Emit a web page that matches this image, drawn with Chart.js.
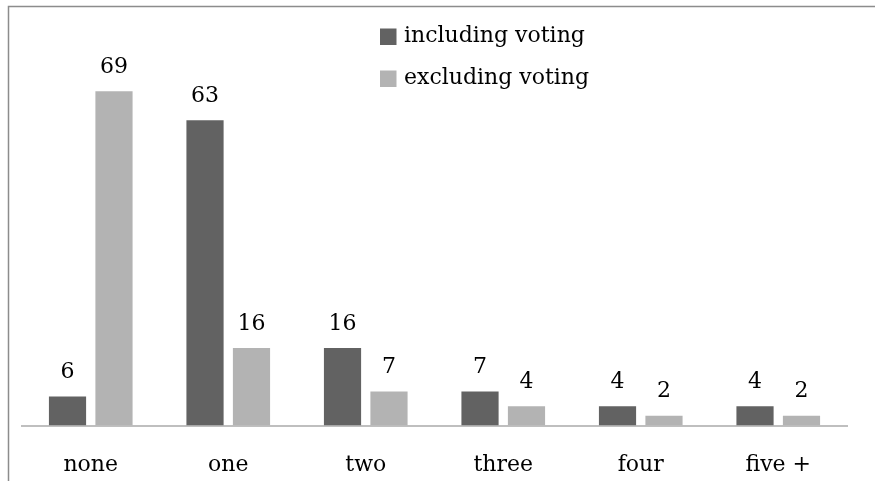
<!DOCTYPE html>
<html lang="en">
<head>
    <meta charset="UTF-8">
    <title>Voting counts</title>
    <script src="https://cdn.jsdelivr.net/npm/chart.js"></script>
    <style>
        html, body { margin: 0; padding: 0; background: #fff; }
        .chart-container { width: 876px; height: 481px; position: relative; }
    </style>
</head>
<body>
<div class="chart-container">
    <canvas id="votes-chart"></canvas>
</div>

<script>
const categories = ['none', 'one', 'two', 'three', 'four', 'five +'];
const includingVoting = [6, 63, 16, 7, 4, 4];
const excludingVoting = [69, 16, 7, 4, 2, 2];
const seriesNames = ['including voting', 'excluding voting'];

const FONT = '"DejaVu Serif", serif';
const FONT_SIZE = 22;

// frame lines along the top and left edge
const framePlugin = {
    id: 'frame',
    beforeDraw(chart) {
        const ctx = chart.ctx;
        ctx.save();
        ctx.fillStyle = '#fff';
        ctx.fillRect(0, 0, chart.width, chart.height);
        ctx.strokeStyle = '#8c8c8c';
        ctx.lineWidth = 1.5;
        ctx.beginPath();
        ctx.moveTo(8.5, chart.height);
        ctx.lineTo(8.5, 6.5);
        ctx.lineTo(chart.width - 1, 6.5);
        ctx.stroke();
        ctx.restore();
    }
};

// value printed above each bar
const valueLabels = {
    id: 'valueLabels',
    afterDatasetsDraw(chart) {
        const ctx = chart.ctx;
        ctx.save();
        ctx.font = FONT_SIZE + 'px ' + FONT;
        ctx.fillStyle = '#000';
        ctx.textAlign = 'center';
        ctx.textBaseline = 'alphabetic';
        chart.data.datasets.forEach((ds, i) => {
            chart.getDatasetMeta(i).data.forEach((bar, j) => {
                ctx.fillText(String(ds.data[j]), bar.x, bar.y - 18.5);
            });
        });
        ctx.restore();
    }
};

// stacked legend inside the plot
const boxLegend = {
    id: 'boxLegend',
    afterDraw(chart) {
        const ctx = chart.ctx;
        ctx.save();
        ctx.font = FONT_SIZE + 'px ' + FONT;
        ctx.textBaseline = 'middle';
        ctx.textAlign = 'left';
        chart.data.datasets.forEach((ds, i) => {
            const cy = 36.5 + i * 42;
            ctx.fillStyle = ds.backgroundColor;
            ctx.fillRect(380, cy - 8, 16.5, 16.5);
            ctx.fillStyle = '#000';
            ctx.fillText(ds.label, 404, cy);
        });
        ctx.restore();
    }
};

new Chart(document.getElementById('votes-chart'), {
    type: 'bar',
    data: {
        labels: categories,
        datasets: [
            { label: seriesNames[0], data: includingVoting, backgroundColor: '#626262' },
            { label: seriesNames[1], data: excludingVoting, backgroundColor: '#b3b3b3' }
        ]
    },
    options: {
        responsive: true,
        maintainAspectRatio: false,
        animation: false,
        datasets: {
            bar: { categoryPercentage: 0.676, barPercentage: 0.8 }
        },
        layout: { padding: { top: 38, left: 22, right: 29, bottom: 0 } },
        plugins: {
            legend: { display: false },
            tooltip: { enabled: false }
        },
        scales: {
            x: {
                grid: { display: false, drawTicks: false },
                border: { display: true, color: '#bfbfbf', width: 2 },
                ticks: {
                    color: '#000',
                    padding: 27,
                    font: { family: FONT, size: FONT_SIZE }
                },
                afterFit(scale) { scale.height = 55.5; }
            },
            y: {
                display: false,
                min: 0,
                max: 80
            }
        }
    },
    plugins: [framePlugin, valueLabels, boxLegend]
});
</script>
</body>
</html>
